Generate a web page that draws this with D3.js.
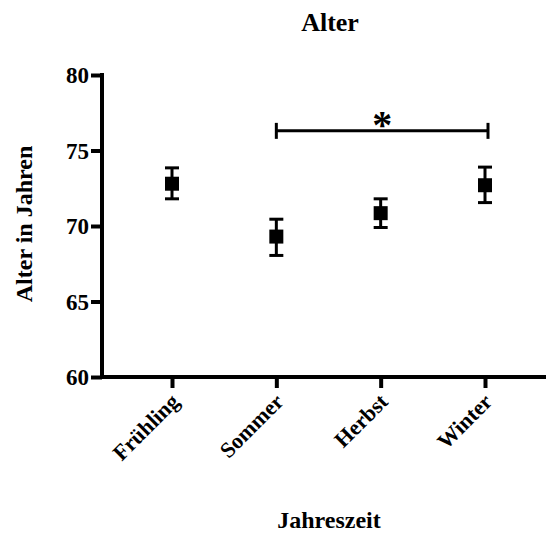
<!DOCTYPE html>
<html><head><meta charset="utf-8">
<script src="https://cdn.jsdelivr.net/npm/d3@7"></script>
<style>body{margin:0;background:#fff}svg{display:block}</style>
</head><body><svg id="c" width="546" height="533"></svg>
<script>
const categories = ["Frühling", "Sommer", "Herbst", "Winter"];
const means = [72.8, 69.3, 70.85, 72.7];
const errLow = [71.8, 68.05, 69.9, 71.55];
const errHigh = [73.85, 70.45, 71.8, 73.9];
const yTicks = [60, 65, 70, 75, 80];
const sigPair = ["Sommer", "Winter"];
const sigLevel = 76.3;
const sigLabel = "*";

const FONT = "'Liberation Serif', 'Times New Roman', Times, 'DejaVu Serif', serif";
const svg = d3.select("#c");
const x = d3.scalePoint().domain(categories).range([172, 485]);
const y = d3.scaleLinear().domain([60, 80]).range([377, 75]);

// axes
const yAxis = svg.append("g").attr("transform", "translate(102,0)")
  .call(d3.axisLeft(y).tickValues(yTicks).tickSize(11).tickPadding(2));
yAxis.select(".domain").remove();
yAxis.selectAll(".tick line").attr("stroke", "#000").attr("stroke-width", 4);
yAxis.selectAll(".tick text").attr("font-family", FONT).attr("font-weight", "bold")
  .attr("font-size", 23).attr("fill", "#000").attr("dy", "0.34em");

const xAxis = svg.append("g").attr("transform", "translate(0,377)")
  .call(d3.axisBottom(x).tickSize(11));
xAxis.select(".domain").remove();
xAxis.selectAll(".tick line").attr("stroke", "#000").attr("stroke-width", 4);
xAxis.selectAll(".tick text").attr("font-family", FONT).attr("font-weight", "bold")
  .attr("font-size", 22).attr("fill", "#000")
  .attr("text-anchor", "end").attr("dy", null).attr("y", 0)
  .attr("transform", "translate(8,26) rotate(-45)");

svg.append("line").attr("x1", 102).attr("x2", 102).attr("y1", y(80) - 2).attr("y2", y(60) + 2)
  .attr("stroke", "#000").attr("stroke-width", 4);
svg.append("line").attr("x1", 100).attr("x2", 546).attr("y1", y(60)).attr("y2", y(60))
  .attr("stroke", "#000").attr("stroke-width", 4);

// error bars
const g = svg.append("g");
categories.forEach((c, i) => {
  const cx = x(c);
  g.append("line").attr("x1", cx).attr("x2", cx).attr("y1", y(errLow[i])).attr("y2", y(errHigh[i]))
    .attr("stroke", "#000").attr("stroke-width", 3);
  [errLow[i], errHigh[i]].forEach(v => {
    g.append("line").attr("x1", cx - 7).attr("x2", cx + 7).attr("y1", y(v)).attr("y2", y(v))
      .attr("stroke", "#000").attr("stroke-width", 3);
  });
  g.append("rect").attr("x", cx - 7).attr("y", y(means[i]) - 7).attr("width", 14).attr("height", 14)
    .attr("fill", "#000");
});

function txt(sel) {
  return sel.attr("font-family", FONT).attr("font-weight", "bold").attr("fill", "#000");
}

// significance bracket
const bx1 = x(sigPair[0]), bx2 = x(sigPair[1]) + 3, by = y(sigLevel);
svg.append("line").attr("x1", bx1).attr("x2", bx2).attr("y1", by).attr("y2", by).attr("stroke", "#000").attr("stroke-width", 3);
[bx1, bx2].forEach(bx => svg.append("line").attr("x1", bx).attr("x2", bx).attr("y1", by - 8).attr("y2", by + 8)
  .attr("stroke", "#000").attr("stroke-width", 3));
txt(svg.append("text")).attr("x", (bx1 + bx2) / 2).attr("y", by + 7).attr("text-anchor", "middle")
  .attr("font-size", 40).text(sigLabel);

// titles
txt(svg.append("text")).attr("x", 330).attr("y", 31).attr("text-anchor", "middle").attr("font-size", 26).text("Alter");
txt(svg.append("text")).attr("transform", "translate(32,224) rotate(-90)").attr("text-anchor", "middle")
  .attr("font-size", 24).text("Alter in Jahren");
txt(svg.append("text")).attr("x", 329).attr("y", 528).attr("text-anchor", "middle").attr("font-size", 24).text("Jahreszeit");
</script></body></html>
